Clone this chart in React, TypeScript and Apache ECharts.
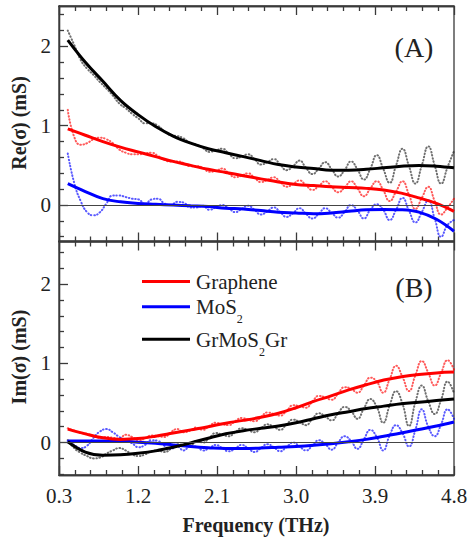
import React, { useEffect, useRef } from 'react';
import * as echarts from 'echarts';

// Measured frequency grid (THz)
const freq = [0.400, 0.473, 0.547, 0.620, 0.693, 0.767, 0.840, 0.913, 0.987, 1.060, 1.133, 1.207, 1.280, 1.353, 1.427, 1.500, 1.573, 1.647, 1.720, 1.793, 1.867, 1.940, 2.013, 2.087, 2.160, 2.233, 2.307, 2.380, 2.453, 2.527, 2.600, 2.673, 2.747, 2.820, 2.893, 2.967, 3.040, 3.113, 3.187, 3.260, 3.333, 3.407, 3.480, 3.553, 3.627, 3.700, 3.773, 3.847, 3.920, 3.993, 4.067, 4.140, 4.213, 4.287, 4.360, 4.433, 4.507, 4.580, 4.653, 4.727, 4.800];

// Panel A: Re(sigma) measured (mS)
const reMeasGraphene = [1.20, 0.86, 0.76, 0.78, 0.83, 0.85, 0.83, 0.78, 0.70, 0.66, 0.64, 0.64, 0.65, 0.66, 0.62, 0.57, 0.55, 0.55, 0.53, 0.49, 0.49, 0.47, 0.42, 0.43, 0.46, 0.40, 0.35, 0.37, 0.40, 0.345, 0.29, 0.315, 0.35, 0.29, 0.23, 0.265, 0.31, 0.25, 0.19, 0.24, 0.30, 0.23, 0.16, 0.22, 0.30, 0.21, 0.11, 0.21, 0.30, 0.19, 0.05, 0.17, 0.30, 0.13, -0.05, 0.09, 0.23, 0.05, -0.12, -0.03, 0.08];
const reMeasMoS2 = [0.65, 0.28, 0.05, -0.09, -0.13, -0.09, 0.02, 0.12, 0.12, 0.10, 0.08, 0.07, 0.01, 0.07, 0.08, 0.02, 0.00, 0.04, 0.03, -0.03, -0.03, -0.01, -0.06, -0.03, 0.00, -0.04, -0.09, -0.05, -0.01, -0.06, -0.12, -0.08, -0.03, -0.09, -0.15, -0.10, -0.04, -0.11, -0.17, -0.11, -0.04, -0.10, -0.16, -0.09, 0.00, -0.07, -0.17, -0.06, 0.01, -0.06, -0.19, -0.06, 0.09, -0.07, -0.22, -0.09, 0.06, -0.17, -0.40, -0.25, -0.19];
const reMeasGrMoS2Gr = [2.20, 2.02, 1.83, 1.72, 1.64, 1.55, 1.47, 1.38, 1.28, 1.22, 1.15, 1.09, 1.03, 1.03, 1.00, 0.93, 0.88, 0.87, 0.84, 0.78, 0.76, 0.72, 0.67, 0.69, 0.71, 0.65, 0.59, 0.61, 0.64, 0.58, 0.51, 0.54, 0.58, 0.51, 0.44, 0.49, 0.56, 0.47, 0.39, 0.46, 0.54, 0.45, 0.36, 0.44, 0.55, 0.45, 0.32, 0.46, 0.63, 0.46, 0.28, 0.50, 0.71, 0.49, 0.27, 0.50, 0.74, 0.50, 0.27, 0.48, 0.68];

// Panel B: Im(sigma) measured (mS)
const imMeasGraphene = [0.18, 0.15, 0.12, 0.11, 0.08, 0.06, 0.07, 0.06, 0.05, 0.10, 0.07, 0.03, 0.05, 0.09, 0.08, 0.07, 0.13, 0.17, 0.13, 0.15, 0.19, 0.16, 0.21, 0.25, 0.23, 0.22, 0.27, 0.31, 0.29, 0.27, 0.32, 0.38, 0.36, 0.34, 0.40, 0.47, 0.46, 0.44, 0.52, 0.59, 0.57, 0.54, 0.62, 0.70, 0.68, 0.63, 0.72, 0.82, 0.77, 0.63, 0.80, 0.97, 0.83, 0.65, 0.85, 1.03, 0.88, 0.72, 0.88, 1.04, 0.92];
const imMeasMoS2 = [0.02, -0.03, -0.07, -0.04, 0.06, 0.14, 0.17, 0.13, 0.07, 0.03, -0.01, -0.06, -0.03, 0.03, 0.02, -0.04, -0.08, -0.05, -0.10, -0.05, -0.05, -0.10, -0.07, -0.03, -0.07, -0.11, -0.075, -0.03, -0.07, -0.12, -0.07, -0.02, -0.06, -0.11, -0.055, 0.00, -0.05, -0.10, -0.04, 0.03, -0.02, -0.09, 0.00, 0.08, 0.02, -0.08, 0.04, 0.16, 0.07, -0.10, 0.09, 0.22, 0.12, -0.05, 0.16, 0.42, 0.20, 0.08, 0.23, 0.42, 0.30];
const imMeasGrMoS2Gr = [0.03, -0.07, -0.13, -0.17, -0.20, -0.19, -0.14, -0.10, -0.07, -0.10, -0.15, -0.17, -0.15, -0.11, -0.10, -0.12, -0.08, -0.02, -0.03, -0.04, 0.02, 0.00, 0.06, 0.12, 0.10, 0.08, 0.13, 0.18, 0.16, 0.13, 0.18, 0.23, 0.20, 0.16, 0.23, 0.29, 0.26, 0.22, 0.30, 0.37, 0.33, 0.28, 0.37, 0.45, 0.40, 0.30, 0.43, 0.55, 0.45, 0.25, 0.47, 0.65, 0.49, 0.21, 0.51, 0.72, 0.52, 0.36, 0.54, 0.77, 0.62];

// Fit curves
const fitFreq = [0.4, 0.6, 0.8, 1.0, 1.2, 1.4, 1.6, 1.8, 2.0, 2.2, 2.4, 2.6, 2.8, 3.0, 3.2, 3.4, 3.6, 3.8, 4.0, 4.2, 4.4, 4.6, 4.8];
const reFitGraphene = [0.96, 0.88, 0.80, 0.73, 0.67, 0.61, 0.55, 0.50, 0.45, 0.41, 0.37, 0.33, 0.29, 0.26, 0.245, 0.23, 0.22, 0.21, 0.19, 0.15, 0.09, 0.02, -0.08];
const reFitMoS2 = [0.27, 0.17, 0.08, 0.04, 0.02, 0.01, 0.00, -0.01, -0.02, -0.04, -0.05, -0.07, -0.09, -0.10, -0.11, -0.10, -0.08, -0.06, -0.055, -0.06, -0.09, -0.18, -0.33];
const reFitGrMoS2Gr = [2.08, 1.80, 1.56, 1.32, 1.14, 0.99, 0.87, 0.78, 0.71, 0.66, 0.61, 0.56, 0.51, 0.48, 0.46, 0.44, 0.44, 0.45, 0.47, 0.49, 0.50, 0.49, 0.47];
const imFitGraphene = [0.17, 0.11, 0.06, 0.04, 0.05, 0.08, 0.12, 0.16, 0.20, 0.245, 0.28, 0.32, 0.37, 0.44, 0.52, 0.59, 0.665, 0.73, 0.79, 0.83, 0.86, 0.88, 0.89];
const imFitMoS2 = [0.02, 0.02, 0.02, 0.015, 0.005, -0.01, -0.03, -0.05, -0.065, -0.075, -0.075, -0.07, -0.06, -0.05, -0.035, -0.015, 0.01, 0.04, 0.08, 0.12, 0.165, 0.21, 0.26];
const imFitGrMoS2Gr = [0.01, -0.12, -0.16, -0.155, -0.135, -0.105, -0.06, -0.005, 0.055, 0.11, 0.15, 0.18, 0.21, 0.25, 0.30, 0.35, 0.39, 0.43, 0.46, 0.49, 0.51, 0.53, 0.55];

// Ticks
const xMajor = [0.3, 1.2, 2.1, 3.0, 3.9, 4.8];
const xMinor = [0.48, 0.66, 0.84, 1.02, 1.38, 1.56, 1.74, 1.92, 2.28, 2.46, 2.64, 2.82, 3.18, 3.36, 3.54, 3.72, 4.08, 4.26, 4.44, 4.62];
const yMajor = [0, 1, 2];
const yMinor = [-0.4, -0.2, 0.2, 0.4, 0.6, 0.8, 1.2, 1.4, 1.6, 1.8, 2.2, 2.4];

const FONT = 'Liberation Serif';
const AX = '#3a3a3a';
const TXT = '#222';

function xAxisDef(grid: number, position: string, values: number[], len: number, labels: boolean) {
  return {
    type: 'value', gridIndex: grid, position, min: 0.3, max: 4.8,
    splitLine: { show: false },
    axisLine: { show: true, onZero: false, lineStyle: { color: AX, width: 1.3 } },
    axisTick: { show: true, inside: true, length: len, customValues: values, lineStyle: { color: AX, width: 1.3 } },
    axisLabel: labels
      ? { show: true, customValues: xMajor, formatter: (v: number) => v.toFixed(1), fontFamily: FONT, fontSize: 21, color: TXT, margin: 10 }
      : { show: false },
  };
}
function yAxisDef(grid: number, min: number, max: number, values: number[], len: number, labels: boolean) {
  return {
    type: 'value', gridIndex: grid, position: 'left', min, max,
    splitLine: { show: false },
    axisLine: { show: true, onZero: false, lineStyle: { color: AX, width: 1.3 } },
    axisTick: { show: true, inside: true, length: len, customValues: values, lineStyle: { color: AX, width: 1.3 } },
    axisLabel: labels
      ? { show: true, customValues: yMajor, fontFamily: FONT, fontSize: 21, color: TXT, margin: 8 }
      : { show: false },
  };
}

const RED = '#ff0000', BLUE = '#0000ff', BLACK = '#000000';

function meas(xi: number, yi: number, ys: number[], color: string) {
  return {
    type: 'line', xAxisIndex: xi, yAxisIndex: yi, silent: true, z: 2,
    data: freq.map((f, i) => [f, ys[i]]), smooth: 0.5, showSymbol: false,
    emphasis: { disabled: true },
    lineStyle: { color, width: 2, type: [0.6, 2.6], cap: 'round', opacity: 0.65 },
  };
}
function fit(xi: number, yi: number, ys: number[], color: string, zero: boolean) {
  const s: any = {
    type: 'line', xAxisIndex: xi, yAxisIndex: yi, silent: true, z: 3,
    data: fitFreq.map((f, i) => [f, ys[i]]), smooth: 0.4, showSymbol: false,
    emphasis: { disabled: true },
    lineStyle: { color, width: 3 },
  };
  if (zero) {
    s.markLine = {
      silent: true, symbol: 'none', label: { show: false },
      lineStyle: { color: '#444', width: 1, type: 'solid' },
      data: [{ yAxis: 0 }],
    };
  }
  return s;
}

export default function App() {
  const ref = useRef<HTMLDivElement>(null);
  useEffect(() => {
    document.body.style.margin = '0';
    const chart = echarts.init(ref.current!, null, { renderer: 'svg' });
    const legendText = (x: number, y: number, text: string) => ({
      type: 'text', x, y,
      style: {
        text, fill: TXT, align: 'left', verticalAlign: 'middle',
        rich: {
          n: { fontFamily: FONT, fontSize: 21, lineHeight: 36, verticalAlign: 'middle', fill: TXT },
          s: { fontFamily: FONT, fontSize: 12, lineHeight: 12, verticalAlign: 'bottom', fill: TXT },
        },
      },
    });
    const legendLine = (y: number, color: string) => ({
      type: 'line', shape: { x1: 142, y1: y, x2: 190, y2: y }, style: { stroke: color, lineWidth: 3 },
    });
    const txt = (x: number, y: number, text: string, size: number, bold: boolean, rot = 0) => ({
      type: 'text', x, y, rotation: rot,
      style: { text, fill: TXT, fontFamily: FONT, fontSize: size, fontWeight: bold ? 'bold' : 'normal', align: 'center', verticalAlign: 'middle' },
    });
    chart.setOption({
      animation: false,
      grid: [
        { left: 59, top: 6, width: 395, height: 235.5, show: true, borderColor: AX, borderWidth: 1.3, containLabel: false, outerBoundsMode: 'none' },
        { left: 59, top: 241.5, width: 395, height: 233.5, show: true, borderColor: AX, borderWidth: 1.3, containLabel: false, outerBoundsMode: 'none' },
      ],
      xAxis: [
        xAxisDef(0, 'bottom', xMajor, 9, false),
        xAxisDef(0, 'bottom', xMinor, 5, false),
        xAxisDef(0, 'top', xMajor, 9, false),
        xAxisDef(0, 'top', xMinor, 5, false),
        xAxisDef(1, 'bottom', xMajor, 9, true),
        xAxisDef(1, 'bottom', xMinor, 5, false),
        xAxisDef(1, 'top', xMajor, 9, false),
        xAxisDef(1, 'top', xMinor, 5, false),
      ],
      yAxis: [
        yAxisDef(0, -0.46, 2.51, yMajor, 9, true),
        yAxisDef(0, -0.46, 2.51, yMinor, 5, false),
        yAxisDef(1, -0.41, 2.54, yMajor, 9, true),
        yAxisDef(1, -0.41, 2.54, yMinor, 5, false),
      ],
      series: [
        meas(0, 0, reMeasGrMoS2Gr, '#222'),
        meas(0, 0, reMeasGraphene, RED),
        meas(0, 0, reMeasMoS2, BLUE),
        fit(0, 0, reFitMoS2, BLUE, true),
        fit(0, 0, reFitGraphene, RED, false),
        fit(0, 0, reFitGrMoS2Gr, BLACK, false),
        meas(4, 2, imMeasGrMoS2Gr, '#222'),
        meas(4, 2, imMeasGraphene, RED),
        meas(4, 2, imMeasMoS2, BLUE),
        fit(4, 2, imFitMoS2, BLUE, true),
        fit(4, 2, imFitGrMoS2Gr, BLACK, false),
        fit(4, 2, imFitGraphene, RED, false),
      ],
      graphic: [
        txt(414, 47, '(A)', 28, false),
        txt(414, 287, '(B)', 28, false),
        txt(19, 123, 'Re(σ) (mS)', 20, true, Math.PI / 2),
        txt(19, 357, 'Im(σ) (mS)', 20, true, Math.PI / 2),
        txt(256, 525, 'Frequency (THz)', 20, true),
        legendLine(281.5, RED),
        legendLine(306.7, BLUE),
        legendLine(339.3, BLACK),
        legendText(196, 282, '{n|Graphene}'),
        legendText(196, 307, '{n|MoS}{s|2}'),
        legendText(196, 339.5, '{n|GrMoS}{s|2}{n|Gr}'),
      ],
    });
    return () => chart.dispose();
  }, []);
  return <div ref={ref} style={{ width: 468, height: 545 }} />;
}
